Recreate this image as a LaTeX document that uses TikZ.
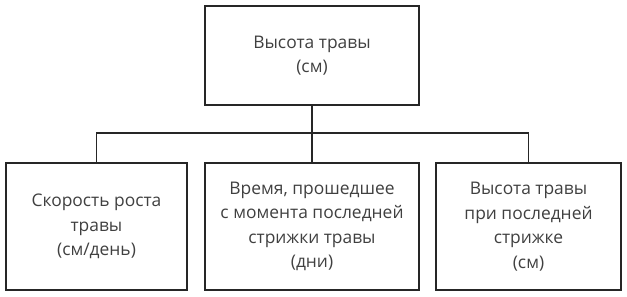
\documentclass[tikz,border=0pt]{standalone}
\usepackage{fontspec}
\setmainfont{Open Sans}
\begin{document}
\begin{tikzpicture}[x=1pt,y=-1pt,
  box/.style={draw=black!85, line width=1.3pt, minimum width=#1, align=center, inner sep=0pt, font=\fontsize{17.4}{24.5}\selectfont, text=black!75},
  conn/.style={draw=black!85, line width=1.3pt}]
\useasboundingbox (0,0) rectangle (627,297);
\node[box=214pt, minimum height=99pt] (top) at (312,55.5) {Высота травы\\(см)};
\node[box=181pt, minimum height=127pt] (a) at (96.5,226.5) {Скорость роста\\травы\\(см/день)};
\node[box=214pt, minimum height=127pt] (b) at (312,226.5) {Время, прошедшее\\с момента последней\\стрижки травы\\(дни)};
\node[box=185pt, minimum height=127pt] (c) at (528.5,226.5) {Высота травы\\при последней\\стрижке\\(см)};
\coordinate (j) at (312,133);
\draw[conn] (top.south) -- (b.north);
\draw[conn] (a.north) |- (j) -| (c.north);
\end{tikzpicture}
\end{document}
